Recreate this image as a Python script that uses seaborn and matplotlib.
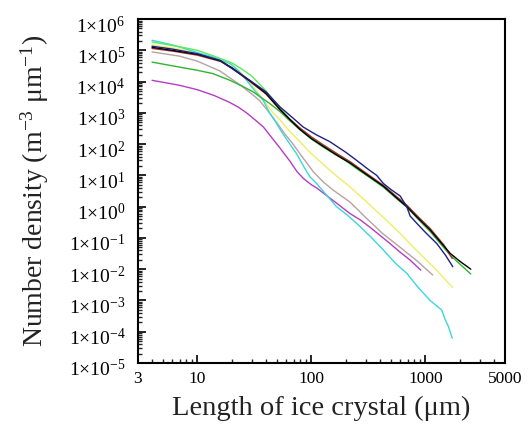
import numpy as np
import pandas as pd
import matplotlib
matplotlib.use("Agg")
import matplotlib.pyplot as plt
import matplotlib.ticker as mticker
import matplotlib.transforms as mtransforms
import seaborn as sns

# values (length in um, number density in m^-3 um^-1)
x_navy = [4, 6, 10, 15.7, 19.3, 28.8, 40, 53, 70, 84.5, 110, 145, 200, 250, 320, 374, 428, 500, 600, 686, 735, 850, 1000, 1258, 1500, 1738]
y_navy = [1.35e5, 1.1e5, 7.8e4, 4.8e4, 2.9e4, 1.1e4, 4.7e3, 1.55e3, 650, 355, 200, 120, 55, 30, 15, 10, 5.5, 3.5, 2.2, 1.0, 0.5, 0.28, 0.15, 0.066, 0.028, 0.012]

x_black = [4, 6, 10, 16, 20, 29, 40, 53, 65, 79, 100, 127, 166, 218, 300, 428, 550, 686, 850, 1100, 1350, 1650, 2000, 2500]
y_black = [1.25e5, 1.0e5, 7.5e4, 4.6e4, 2.8e4, 1.05e4, 4.2e3, 1.3e3, 600, 300, 150, 85, 45, 25, 11, 4.5, 2.0, 1.0, 0.45, 0.18, 0.075, 0.032, 0.018, 0.010]

x_red = [4, 6, 10, 16, 20, 29, 40, 53, 65, 80, 100, 127, 170, 220, 300, 428, 550, 690, 850, 1100, 1450, 1720]
y_red = [1.15e5, 9.5e4, 7e4, 4.4e4, 2.7e4, 1.0e4, 4.0e3, 1.25e3, 620, 320, 170, 95, 48, 27, 12, 4.8, 2.2, 1.1, 0.5, 0.2, 0.06, 0.022]

x_green = [4, 7, 10, 13.7, 19.3, 25, 30.8, 43, 53, 65, 80, 100, 127, 170, 220, 300, 428, 550, 690, 850, 1100, 1650, 2500]
y_green = [4.2e4, 2.9e4, 2.3e4, 1.8e4, 1.1e4, 7e3, 4.7e3, 2.0e3, 1.1e3, 550, 280, 145, 80, 42, 24, 10.5, 4.2, 1.9, 0.95, 0.42, 0.16, 0.028, 0.007]

x_lime = [4, 7, 10, 14, 20, 25, 30, 40, 53, 65, 80, 100, 127, 170, 250, 428, 690, 1100, 1400]
y_lime = [1.85e5, 1.3e5, 1.0e5, 6.5e4, 4.0e4, 2.4e4, 1.5e4, 5.0e3, 1.4e3, 620, 300, 160, 90, 46, 16, 4.6, 1.05, 0.19, 0.06]

x_cyan = [4, 6, 8, 10, 13.7, 19.3, 23, 27, 32, 37.8, 43, 48, 53, 60, 74, 85, 97, 111, 135, 166, 205, 250, 330, 428, 550, 686, 850, 1099, 1392, 1480, 1600, 1720]
y_cyan = [2.1e5, 1.5e5, 1.1e5, 8.5e4, 6.1e4, 3.8e4, 2.2e4, 1.1e4, 5e3, 2.5e3, 1.0e3, 550, 300, 150, 50, 20, 9, 5.5, 2.4, 1.0, 0.55, 0.29, 0.11, 0.041, 0.015, 0.0074, 0.0028, 1.0e-3, 4.9e-4, 2.6e-4, 1.4e-4, 6.2e-5]

x_yellow = [4, 6, 8, 10, 13.7, 20, 27, 35, 46, 53, 65, 79, 95, 111, 150, 218, 300, 428, 600, 833, 1200, 1730]
y_yellow = [1.5e5, 1.2e5, 1.0e5, 8e4, 6e4, 3.5e4, 1.3e4, 3.8e3, 1.0e3, 600, 250, 120, 60, 35, 13, 4.3, 1.5, 0.45, 0.14, 0.04, 0.011, 2.6e-3]

x_gray = [4, 7, 10, 15.7, 23.5, 30, 35, 42, 49.4, 58, 69, 85, 104, 128, 155, 218, 305, 420, 600, 850, 1159]
y_gray = [8.9e4, 6.5e4, 4.5e4, 2.2e4, 8e3, 4e3, 2.5e3, 1.1e3, 500, 220, 100, 35, 13, 6, 3.4, 1.4, 0.42, 0.14, 0.05, 0.018, 6.5e-3]

x_magenta = [4, 5, 7, 10, 14, 19, 23, 27, 32, 38, 45, 53, 65, 75, 85, 100, 111, 135, 166, 218, 270, 326, 400, 489, 600, 735, 910]
y_magenta = [1.1e4, 9.5e3, 7.6e3, 5.5e3, 3.6e3, 2.2e3, 1.5e3, 1.0e3, 600, 350, 160, 75, 28, 13, 8, 5, 4, 2.3, 1.3, 0.6, 0.37, 0.22, 0.12, 0.066, 0.035, 0.0195, 0.0093]

series = {
    "magenta": (x_magenta, y_magenta),
    "gray": (x_gray, y_gray),
    "yellow": (x_yellow, y_yellow),
    "cyan": (x_cyan, y_cyan),
    "lime": (x_lime, y_lime),
    "green": (x_green, y_green),
    "red": (x_red, y_red),
    "black": (x_black, y_black),
    "navy": (x_navy, y_navy),
}
palette = {
    "magenta": "#b53cc4",
    "gray": "#b8a2a2",
    "yellow": "#eeee66",
    "cyan": "#3ad8dc",
    "lime": "#5ee85e",
    "green": "#2fb52f",
    "red": "#a8322c",
    "black": "#000000",
    "navy": "#1f1f86",
}

frames = []
for name, (xs, ys) in series.items():
    frames.append(pd.DataFrame({"length": xs, "density": ys, "run": name}))
df = pd.concat(frames, ignore_index=True)

sns.set_style("ticks")
plt.rcParams["font.family"] = ["Liberation Serif", "DejaVu Serif"]
plt.rcParams["mathtext.fontset"] = "custom"
plt.rcParams["mathtext.rm"] = "Liberation Serif"
plt.rcParams["mathtext.it"] = "Liberation Serif:italic"

fig = plt.figure(figsize=(5.3, 4.24), dpi=100)
ax = fig.add_axes([0.260, 0.144, 0.693, 0.811])

sns.lineplot(data=df, x="length", y="density", hue="run", palette=palette,
             estimator=None, sort=False, legend=False, linewidth=1.0, ax=ax)

ax.set_xscale("log")
ax.set_yscale("log")
ax.set_xlim(3, 5000)
ax.set_ylim(1e-5, 1e6)

ax.xaxis.set_major_locator(mticker.FixedLocator([3, 10, 100, 1000, 5000]))
ax.xaxis.set_major_formatter(mticker.FixedFormatter(["3", "10", "100", "1000", "5000"]))
ax.xaxis.set_minor_locator(mticker.LogLocator(base=10, subs=np.arange(2, 10), numticks=20))
ax.xaxis.set_minor_formatter(mticker.NullFormatter())

decades = list(range(-5, 7))
ax.yaxis.set_major_locator(mticker.FixedLocator([10.0 ** d for d in decades]))
ax.yaxis.set_major_formatter(mticker.FixedFormatter(["1\u00d710$^{%d}$" % d for d in decades]))
ax.yaxis.set_minor_locator(mticker.LogLocator(base=10, subs=np.arange(2, 10), numticks=20))
ax.yaxis.set_minor_formatter(mticker.NullFormatter())

ax.tick_params(which="major", direction="in", length=6, width=1.2, colors="black")
ax.tick_params(which="minor", direction="in", length=3, width=1.0)
ax.tick_params(axis="y", pad=9, labelsize=14)
ax.tick_params(axis="x", pad=6, labelsize=12.5)

# tick labels of the original sit a few pixels below their ticks
shift = mtransforms.ScaledTranslation(0, -0.05, fig.dpi_scale_trans)
for lab in ax.get_yticklabels():
    lab.set_transform(lab.get_transform() + shift)

for sp in ax.spines.values():
    sp.set_linewidth(1.5)
    sp.set_color("black")

ax.set_xlabel("Length of ice crystal (\u03bcm)", fontsize=20.5, color="#222222", labelpad=6)
ax.set_ylabel("Number density (m$^{-3}$ \u03bcm$^{-1}$)", fontsize=20, color="#222222")
ax.yaxis.set_label_coords(-0.235, 0.5)

fig.savefig("out.png", dpi=100, facecolor="white")
